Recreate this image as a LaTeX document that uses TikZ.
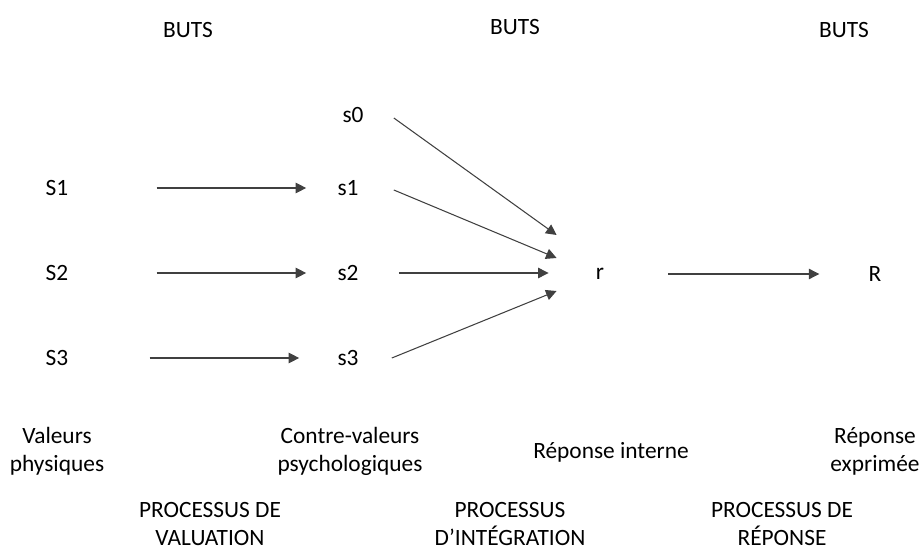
\documentclass[tikz,border=0pt]{standalone}
\usepackage{fontspec}
\setmainfont{Carlito}
\usepackage{tikz}
\usetikzlibrary{arrows.meta}

\tikzset{
  lbl/.style={inner sep=0pt, font=\fontsize{13.3}{16}\selectfont, align=center},
  arr/.style={draw=black!75, line width=0.6pt, -{Triangle[length=6pt,width=6pt]}}
}

\begin{document}
\begin{tikzpicture}[x=0.02cm, y=-0.02cm]
   \useasboundingbox (0,0) rectangle (919,550);

   % goals
   \node[lbl] (buts1) at (188,30) {BUTS};
   \node[lbl] (buts2) at (515,27) {BUTS};
   \node[lbl] (buts3) at (844,30) {BUTS};

   % stimuli and values
   \node[lbl] (S1) at (57,188) {S1};
   \node[lbl] (S2) at (57,273) {S2};
   \node[lbl] (S3) at (57,358) {S3};
   \node[lbl] (s0) at (353,115) {s0};
   \node[lbl] (s1) at (348,188) {s1};
   \node[lbl] (s2) at (348,273) {s2};
   \node[lbl] (s3) at (348,358) {s3};
   \node[lbl] (r) at (600,274) {r};
   \node[lbl] (R) at (875,274) {R};

   % valuation
   \draw[arr] ([shift={(88,0)}]S1.east) -- ([shift={(-31,0)}]s1.west);
   \draw[arr] ([shift={(88,0)}]S2.east) -- ([shift={(-31,0)}]s2.west);
   \draw[arr] ([shift={(81,0)}]S3.east) -- ([shift={(-38,0)}]s3.west);
   % integration
   \draw[arr] ([shift={(30,3)}]s0.east) -- ([shift={(-39,-39)}]r.west);
   \draw[arr] ([shift={(35,2)}]s1.east) -- ([shift={(-39,-16)}]r.west);
   \draw[arr] ([shift={(40,0)}]s2.east) -- ([shift={(-47,-1)}]r.west);
   \draw[arr] ([shift={(33,0)}]s3.east) -- ([shift={(-39,17)}]r.west);
   % response
   \draw[arr] ([shift={(64,0)}]r.east) -- ([shift={(-49,0)}]R.west);

   % captions
   \node[lbl] (val) at (57,451) {Valeurs\\physiques};
   \node[lbl] (cval) at (350,451) {Contre-valeurs\\psychologiques};
   \node[lbl] (rint) at (611,452) {Réponse interne};
   \node[lbl] (rexp) at (875,451) {Réponse\\exprimée};
   \node[lbl] (pval) at (210,524) {PROCESSUS DE\\VALUATION};
   \node[lbl] (pint) at (510,524) {PROCESSUS\\D’INTÉGRATION};
   \node[lbl] (prep) at (782,524) {PROCESSUS DE\\RÉPONSE};
\end{tikzpicture}
\end{document}
